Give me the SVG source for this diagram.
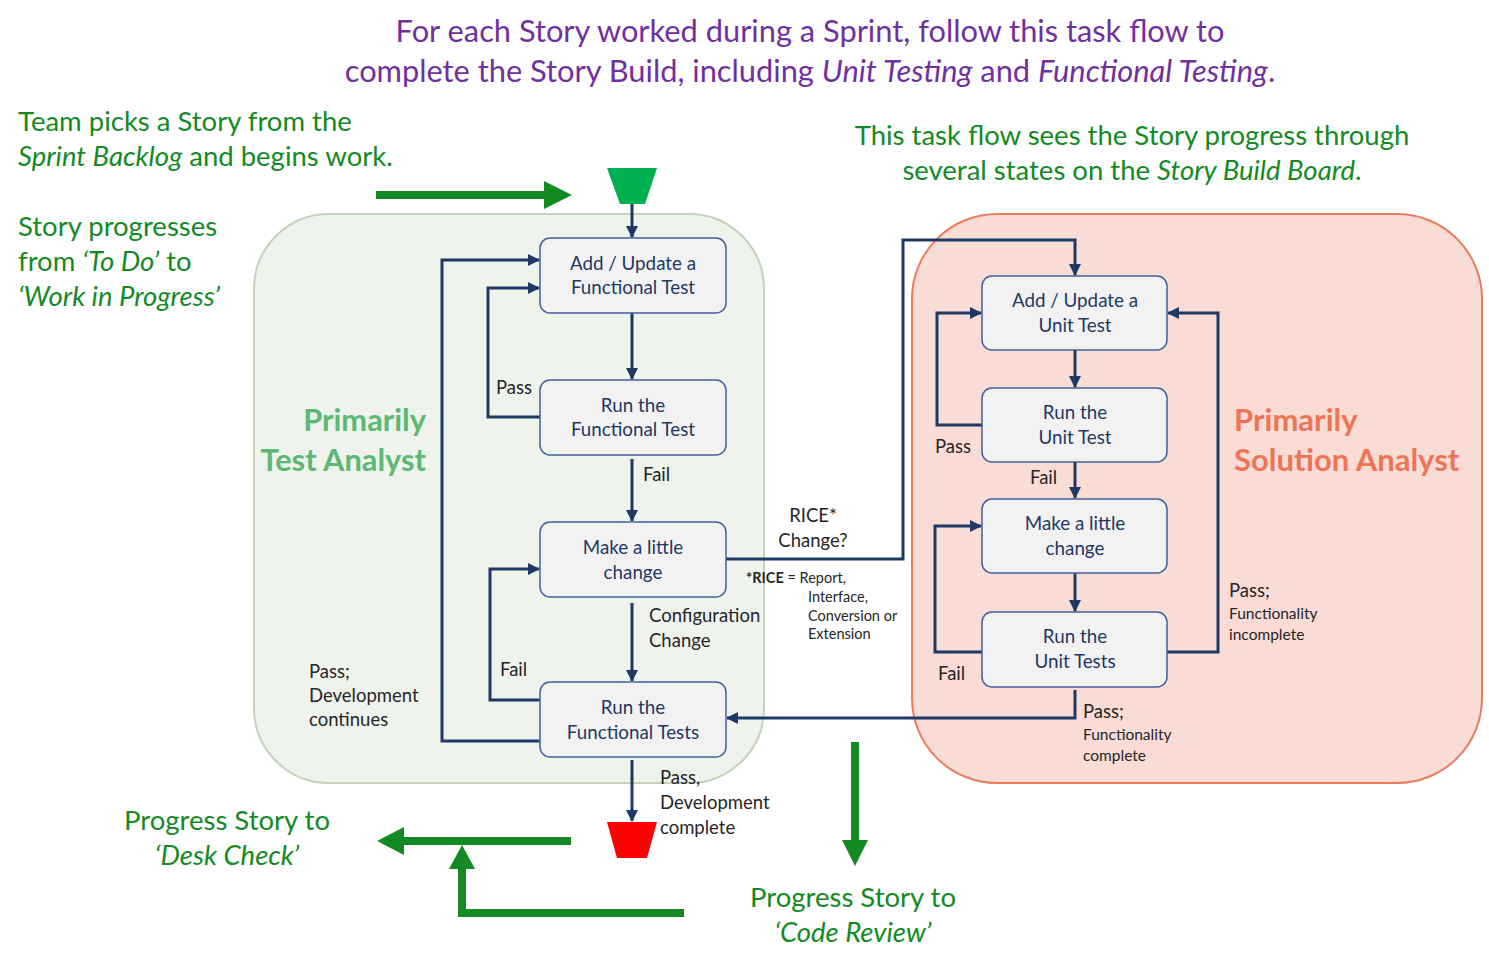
<svg xmlns="http://www.w3.org/2000/svg" width="1489" height="967" viewBox="0 0 1489 967">
<defs>
<marker id="ah" markerWidth="12" markerHeight="12" refX="11" refY="6" orient="auto" markerUnits="userSpaceOnUse">
<path d="M0,0 L12,6 L0,12 Z" fill="#1f3864"/>
</marker>
<style>
.box{fill:#f2f2f2;stroke:#41609a;stroke-width:1.5}
.bt{font-family:Lato,"Open Sans",sans-serif;font-size:18.8px;fill:#1f3864;text-anchor:middle}
.c{fill:none;stroke:#1f3864;stroke-width:3}
.ca{fill:none;stroke:#1f3864;stroke-width:3;marker-end:url(#ah)}
.lb{font-family:Lato,"Open Sans",sans-serif;font-size:18.5px;fill:#262626}
.sm{font-family:Lato,"Open Sans",sans-serif;font-size:15.5px;fill:#262626}
.sr{font-family:Lato,"Open Sans",sans-serif;font-size:14.5px;fill:#262626}
.g{font-family:Lato,"Open Sans",sans-serif;font-size:27.5px;fill:#138a24}
.ttl{font-family:Lato,"Open Sans",sans-serif;font-size:30.8px;fill:#7030a0;text-anchor:middle}
.ga{fill:#138a24}
</style>
</defs>
<rect width="1489" height="967" fill="#ffffff"/>

<g id="titles">
<text class="ttl" x="810" y="42">For each Story worked during a Sprint, follow this task flow to</text>
<text class="ttl" x="810" y="82">complete the Story Build, including <tspan font-style="italic">Unit Testing</tspan> and <tspan font-style="italic">Functional Testing</tspan>.</text>
<text class="g" x="18" y="131">Team picks a Story from the</text>
<text class="g" x="18" y="166"><tspan font-style="italic">Sprint Backlog</tspan> and begins work.</text>
<text class="g" x="18" y="236">Story progresses</text>
<text class="g" x="18" y="271">from <tspan font-style="italic">‘To Do’</tspan> to</text>
<text class="g" x="18" y="306"><tspan font-style="italic">‘Work in Progress’</tspan></text>
<text class="g" x="1132" y="145" text-anchor="middle" font-size="27">This task flow sees the Story progress through</text>
<text class="g" x="1132" y="180" text-anchor="middle" font-size="27">several states on the <tspan font-style="italic">Story Build Board</tspan>.</text>
<text class="g" x="227" y="830" text-anchor="middle" font-size="27">Progress Story to</text>
<text class="g" x="227" y="865" text-anchor="middle" font-size="27" font-style="italic">‘Desk Check’</text>
<text class="g" x="853" y="907" text-anchor="middle" font-size="27">Progress Story to</text>
<text class="g" x="853" y="942" text-anchor="middle" font-size="27" font-style="italic">‘Code Review’</text>
</g>

<g id="lanes">
<rect x="254" y="214" width="510" height="569" rx="75" fill="#eef3ec" stroke="#c5d3b8" stroke-width="2"/>
<rect x="912" y="214" width="570" height="569" rx="85" fill="#f9dcd5" stroke="#ec7a5c" stroke-width="2"/>
<text x="426" y="431" text-anchor="end" font-family="Lato,'Open Sans',sans-serif" font-weight="bold" font-size="30.8" fill="#5cb874">Primarily</text>
<text x="426" y="471" text-anchor="end" font-family="Lato,'Open Sans',sans-serif" font-weight="bold" font-size="30.8" fill="#5cb874">Test Analyst</text>
<text x="1234" y="431" font-family="Lato,'Open Sans',sans-serif" font-weight="bold" font-size="31" fill="#ee7455">Primarily</text>
<text x="1234" y="471" font-family="Lato,'Open Sans',sans-serif" font-weight="bold" font-size="31" fill="#ee7455">Solution Analyst</text>
</g>

<g id="green-arrows">
<rect x="376" y="191" width="170" height="8" class="ga"/>
<polygon points="544,181 572,195 544,209" class="ga"/>
<rect x="402" y="837" width="169" height="8" class="ga"/>
<polygon points="404,827 377,841 404,855" class="ga"/>
<polygon points="458,913 458,868 466,868 466,913" class="ga"/>
<rect x="458" y="909" width="226" height="8" class="ga"/>
<polygon points="449,869 462,845 475,869" class="ga"/>
<rect x="851" y="742" width="8" height="100" class="ga"/>
<polygon points="842,840 855,866 868,840" class="ga"/>
</g>

<g id="start">
<polygon points="607,168 657,168 645,204 620,204" fill="#00b050"/>
</g>
<g id="end">
<polygon points="607,822 657,822 647,858 617,858" fill="#ff0000"/>
</g>

<g id="connectors">
<path class="ca" d="M632,204 V237"/>
<path class="ca" d="M632,313 V379"/>
<path class="ca" d="M540,417 H488 V288 H539"/>
<path class="ca" d="M632,459 V521"/>
<path class="ca" d="M632,603 V681"/>
<path class="ca" d="M540,700 H490 V569 H539"/>
<path class="ca" d="M540,741 H442 V260 H539"/>
<path class="ca" d="M632,760 V821"/>
<path class="ca" d="M726,559 H903 V240 H1075 V275"/>
<path class="ca" d="M1075,350 V387"/>
<path class="ca" d="M982,425 H937 V313 H981"/>
<path class="ca" d="M1075,462 V498"/>
<path class="ca" d="M1075,573 V611"/>
<path class="ca" d="M982,652 H935 V526 H981"/>
<path class="ca" d="M1167,652 H1218 V313 H1168"/>
<path class="ca" d="M1075,690 V718 H727"/>
<text class="lb" x="496" y="394">Pass</text>
<text class="lb" x="643" y="481">Fail</text>
<text class="lb" x="649" y="622">Configuration</text>
<text class="lb" x="649" y="647">Change</text>
<text class="lb" x="500" y="676">Fail</text>
<text class="lb" x="309" y="678">Pass;</text>
<text class="lb" x="309" y="702">Development</text>
<text class="lb" x="309" y="726">continues</text>
<text class="lb" x="660" y="784">Pass,</text>
<text class="lb" x="660" y="809">Development</text>
<text class="lb" x="660" y="834">complete</text>
<text class="lb" x="813" y="522" text-anchor="middle">RICE*</text>
<text class="lb" x="813" y="547" text-anchor="middle">Change?</text>
<text class="sr" x="746" y="583"><tspan font-weight="bold">*RICE</tspan> = Report,</text>
<text class="sr" x="808" y="602">Interface,</text>
<text class="sr" x="808" y="621">Conversion or</text>
<text class="sr" x="808" y="639">Extension</text>
<text class="lb" x="935" y="453">Pass</text>
<text class="lb" x="1030" y="484">Fail</text>
<text class="lb" x="938" y="680">Fail</text>
<text class="lb" x="1229" y="597">Pass;</text>
<text class="sm" x="1229" y="619">Functionality</text>
<text class="sm" x="1229" y="640">incomplete</text>
<text class="lb" x="1083" y="718">Pass;</text>
<text class="sm" x="1083" y="740">Functionality</text>
<text class="sm" x="1083" y="761">complete</text>
</g>

<g id="n-add-functional">
<rect class="box" x="540" y="238" width="186" height="75" rx="10"/>
<text class="bt" x="633" y="270">Add / Update a</text>
<text class="bt" x="633" y="294">Functional Test</text>
</g>
<g id="n-run-functional">
<rect class="box" x="540" y="380" width="186" height="75" rx="10"/>
<text class="bt" x="633" y="412">Run the</text>
<text class="bt" x="633" y="436">Functional Test</text>
</g>
<g id="n-change-left">
<rect class="box" x="540" y="522" width="186" height="75" rx="10"/>
<text class="bt" x="633" y="554">Make a little</text>
<text class="bt" x="633" y="579">change</text>
</g>
<g id="n-run-functional-tests">
<rect class="box" x="540" y="682" width="186" height="75" rx="10"/>
<text class="bt" x="633" y="714">Run the</text>
<text class="bt" x="633" y="739">Functional Tests</text>
</g>
<g id="n-add-unit">
<rect class="box" x="982" y="276" width="185" height="74" rx="10"/>
<text class="bt" x="1075" y="307">Add / Update a</text>
<text class="bt" x="1075" y="332">Unit Test</text>
</g>
<g id="n-run-unit">
<rect class="box" x="982" y="388" width="185" height="74" rx="10"/>
<text class="bt" x="1075" y="419">Run the</text>
<text class="bt" x="1075" y="444">Unit Test</text>
</g>
<g id="n-change-right">
<rect class="box" x="982" y="499" width="185" height="74" rx="10"/>
<text class="bt" x="1075" y="530">Make a little</text>
<text class="bt" x="1075" y="555">change</text>
</g>
<g id="n-run-unit-tests">
<rect class="box" x="982" y="612" width="185" height="75" rx="10"/>
<text class="bt" x="1075" y="643">Run the</text>
<text class="bt" x="1075" y="668">Unit Tests</text>
</g>
</svg>
